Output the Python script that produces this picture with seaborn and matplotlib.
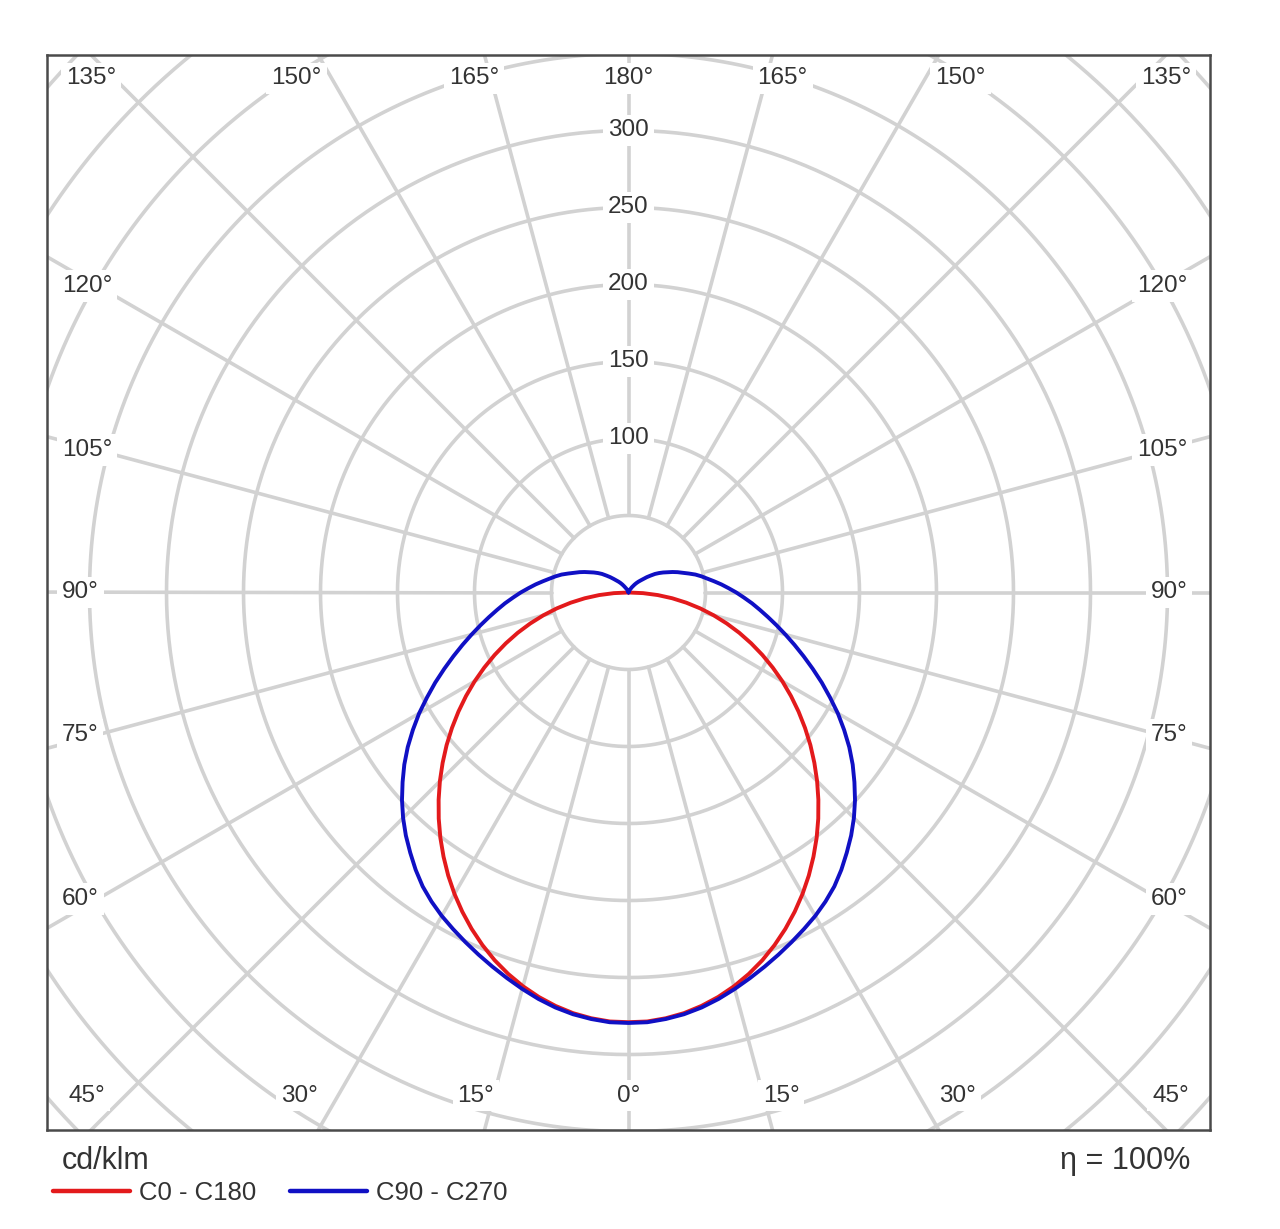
"""Polar luminous intensity diagram (cd/klm) for two C-planes."""

import matplotlib

matplotlib.use("Agg")
import matplotlib.pyplot as plt
import numpy as np
import pandas as pd
import seaborn as sns

# gamma angle from nadir (deg), 2.5 deg steps; the other half-plane mirrors these
gamma_deg = [i * 2.5 for i in range(73)]
c0_c180 = [
    279.0, 278.8, 277.5, 275.5, 272.6, 269.0, 264.7, 259.7, 254.1, 247.8, 241.0, 233.7, 226.0,
    217.9, 209.4, 200.7, 191.7, 182.5, 173.2, 163.7, 154.2, 144.5, 134.8, 125.1, 115.4,
    105.6, 95.9, 86.2, 76.6, 66.9, 57.3, 47.7, 38.1, 28.6, 19.1, 9.5, 0.0,
    0, 0, 0, 0, 0, 0, 0, 0, 0, 0, 0, 0,
    0, 0, 0, 0, 0, 0, 0, 0, 0, 0, 0, 0,
    0, 0, 0, 0, 0, 0, 0, 0, 0, 0, 0, 0,
]
c90_c270 = [
    279.5, 279.3, 278.0, 276.2, 273.6, 270.3, 266.5, 262.5, 258.5, 254.5, 250.5, 246.5, 242.5,
    238.0, 233.0, 227.0, 220.5, 214.0, 207.0, 199.5, 191.5, 183.5, 175.0, 166.0, 157.0,
    147.5, 138.5, 129.5, 121.0, 113.0, 105.5, 98.5, 92.0, 86.0, 80.5, 75.0, 70.0,
    65.0, 60.5, 56.0, 52.0, 48.5, 45.0, 41.0, 37.5, 34.5, 31.5, 28.5, 26.0,
    23.5, 21.0, 18.0, 15.5, 13.0, 11.0, 9.5, 8.0, 6.5, 5.0, 4.0, 3.0,
    2.5, 2.0, 1.5, 1.0, 0.7, 0.5, 0.3, 0.1, 0.0, 0.0, 0.0, 0.0,
]
series_names = ["C0 - C180", "C90 - C270"]
series_colors = ["#e31a1c", "#1010c4"]

ring_values = [50, 100, 150, 200, 250, 300, 350, 400, 450, 500]
ring_labels = [100, 150, 200, 250, 300]
spoke_step = 15
top_labels = [135, 150, 165, 180]
side_labels = [60, 75, 90, 105, 120]
bottom_labels = [0, 15, 30, 45]
efficiency = "η = 100%"
unit_label = "cd/klm"

sns.set_style("white")
plt.rcParams["font.family"] = ["Liberation Sans", "DejaVu Sans"]

GRID = "#d2d2d2"
TXT = "#333333"
XL, YL = 377.6, 349.0


def polar_frame(names, values_list):
    rows = []
    for name, values in zip(names, values_list):
        signed = [-g for g in gamma_deg[:0:-1]] + gamma_deg
        full = values[:0:-1] + values
        for g, v in zip(signed, full):
            rows.append({"curve": name, "gamma": g, "I": v})
    df = pd.DataFrame(rows)
    rad = np.deg2rad(df["gamma"])
    df["x"] = df["I"] * np.sin(rad)
    df["y"] = -df["I"] * np.cos(rad)
    return df


fig = plt.figure(figsize=(12.8, 12.29), dpi=100)
ax = fig.add_axes([47 / 1280, 1 - 1130 / 1229, 1163 / 1280, 1075 / 1229])

# grid: rings and spokes
t = np.linspace(0, 2 * np.pi, 721)
for r in ring_values:
    ax.plot(r * np.cos(t), r * np.sin(t), color=GRID, lw=2.6, zorder=1)
for a in range(0, 360, spoke_step):
    ar = np.deg2rad(a)
    ax.plot([50 * np.sin(ar), 700 * np.sin(ar)], [-50 * np.cos(ar), -700 * np.cos(ar)],
            color=GRID, lw=2.6, zorder=1)

df = polar_frame(series_names, [c0_c180, c90_c270])
sns.lineplot(data=df, x="x", y="y", hue="curve", palette=series_colors, sort=False,
             estimator=None, lw=2.8, ax=ax, zorder=5, legend=True)

box = dict(boxstyle="square,pad=0.2", fc="white", ec="none")
lab = dict(fontsize=17.5, color=TXT, zorder=4, bbox=box)

for r in ring_labels:
    ax.text(0, r, str(r), ha="center", va="center", **lab)

for g in top_labels:
    xc = min(YL * np.tan(np.deg2rad(180 - g)) * 1.07, 349)
    for s in ([-1, 1] if g != 180 else [1]):
        ax.text(s * xc, 333.8, f"{g}°", ha="center", va="center", **lab)
for g in bottom_labels:
    xc = min(YL * np.tan(np.deg2rad(g)) * 1.06, 352)
    for s in ([-1, 1] if g != 0 else [1]):
        ax.text(s * xc, -326.6, f"{g}°", ha="center", va="center", **lab)
for g in side_labels:
    yc = -345 / np.tan(np.deg2rad(g))
    ax.text(-368, yc, f"{g}°", ha="left", va="center", **lab)
    ax.text(363, yc, f"{g}°", ha="right", va="center", **lab)

ax.set_xlim(-XL, XL)
ax.set_ylim(-YL, YL)
ax.set_xticks([])
ax.set_yticks([])
ax.set_xlabel("")
ax.set_ylabel("")
for sp in ax.spines.values():
    sp.set_visible(True)
    sp.set_color("#4a4a4a")
    sp.set_linewidth(1.8)

handles, labels = ax.get_legend_handles_labels()
ax.get_legend().remove()
for h in handles:
    h.set_linewidth(3.2)
fig.legend(handles, labels, loc="center left", bbox_to_anchor=(53 / 1280, 1 - 1193 / 1229),
           ncol=2, frameon=False, fontsize=18.5, handlelength=3.0, handletextpad=0.35,
           columnspacing=1.3, borderpad=0, borderaxespad=0, labelcolor=TXT)

fig.text(62 / 1280, 1 - 1161 / 1229, unit_label, ha="left", va="center", fontsize=22, color=TXT)
fig.text(1190 / 1280, 1 - 1161 / 1229, efficiency, ha="right", va="center", fontsize=22, color=TXT)

fig.savefig("out.png", dpi=100, facecolor="white")
